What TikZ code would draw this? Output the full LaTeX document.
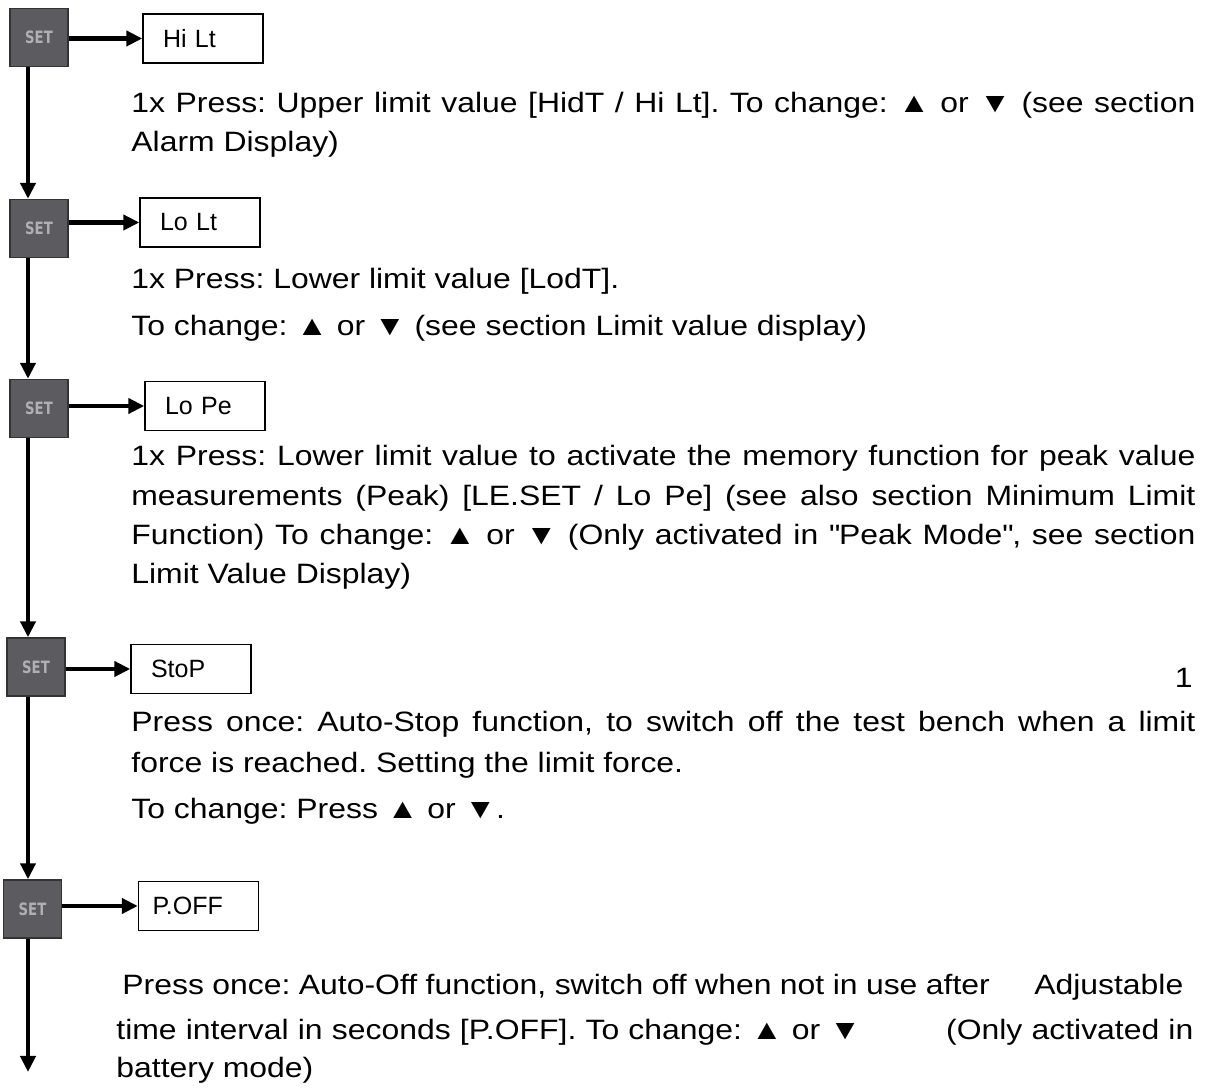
\documentclass[tikz,border=0pt]{standalone}
\usepackage{fontspec}
\setmainfont{Liberation Sans}[FakeStretch=1.14]
\newfontfamily\boxfont{Liberation Sans}
\newfontfamily\keyfont{DejaVu Sans}
\usetikzlibrary{shapes, arrows.meta}
\definecolor{keygray}{RGB}{92,92,96}
\definecolor{keytext}{RGB}{176,176,178}
\tikzstyle{setkey} = [rectangle, minimum size=29pt, inner sep=0pt, draw=black!80, line width=0.7pt, fill=keygray, text=keytext, font=\keyfont\bfseries\fontsize{8.5}{9}\selectfont]
\tikzstyle{display} = [rectangle, text width=40pt, inner xsep=10pt, minimum height=24.5pt, align=left, draw=black, line width=0.7pt, font=\boxfont\fontsize{12.5}{14}\selectfont]
\tikzstyle{txt} = [anchor=base west, inner sep=0pt, font=\fontsize{14}{16}\selectfont]
\tikzstyle{edge} = [line width=2.2pt, -{Triangle[length=8pt, width=7.5pt]}]
\newcommand{\jline}[1]{\makebox[532pt][s]{#1}}
\newcommand{\keylabel}{\scalebox{0.78}[1]{SET}}

\begin{document}
\frenchspacing
\begin{tikzpicture}[x=0.5pt, y=-0.5pt]
\useasboundingbox (0,0) rectangle (1207,1090);

\node (s1) [setkey] at (39,37.5) {\keylabel};
\node (s2) [setkey] at (39,228.5) {\keylabel};
\node (s3) [setkey] at (39,408.5) {\keylabel};
\node (s4) [setkey] at (36,667) {\keylabel};
\node (s5) [setkey] at (32.5,909) {\keylabel};

\node (d1) [display] at (203,38.5) {Hi Lt};
\node (d2) [display] at (200,222.5) {Lo Lt};
\node (d3) [display] at (205,406) {Lo Pe};
\node (d4) [display] at (191,669) {StoP};
\node (d5) [display, inner xsep=7pt, text width=46pt] at (198.5,906) {P.OFF};

\coordinate (spine) at (28,0);
\coordinate (end) at (28,1072);

\node (t11) [txt] at (131,113) {\jline{1x Press: Upper limit value [HidT / Hi Lt]. To change: ▲ or ▼ (see section}};
\node (t12) [txt] at (131,152) {Alarm Display)};

\node (t21) [txt] at (131,289) {1x Press: Lower limit value [LodT].};
\node (t22) [txt] at (131,336) {To change: ▲ or ▼ (see section Limit value display)};

\node (t31) [txt] at (131,466) {\jline{1x Press: Lower limit value to activate the memory function for peak value}};
\node (t32) [txt] at (131,506) {\jline{measurements (Peak) [LE.SET / Lo Pe] (see also section Minimum Limit}};
\node (t33) [txt] at (131,545) {\jline{Function) To change: ▲ or ▼ (Only activated in \textquotedbl Peak Mode\textquotedbl, see section}};
\node (t34) [txt] at (131,584) {Limit Value Display)};

\node (pg) [txt, anchor=base east] at (1193,688) {1};

\node (t41) [txt] at (131,732) {\jline{Press once: Auto-Stop function, to switch off the test bench when a limit}};
\node (t42) [txt] at (131,773) {force is reached. Setting the limit force.};
\node (t43) [txt] at (131,819) {To change: Press ▲ or ▼.};

\node (t51) [txt] at (122,995) {\makebox[530.5pt][s]{Press once: Auto-Off function, switch off when not in use after\hspace*{18pt} Adjustable}};
\node (t52) [txt] at (116,1040) {\makebox[538.5pt][s]{time interval in seconds [P.OFF]. To change: ▲ or ▼\hspace*{38pt} (Only activated in}};
\node (t53) [txt] at (116,1078) {battery mode)};

\draw [edge] (s1.east |- d1.west) -- (d1.west);
\draw [edge] (s2.east |- d2.west) -- (d2.west);
\draw [edge] (s3.east |- d3.west) -- (d3.west);
\draw [edge] (s4.east |- d4.west) -- (d4.west);
\draw [edge] (s5.east |- d5.west) -- (d5.west);

\draw [edge] (s1.south -| spine) -- (s2.north -| spine);
\draw [edge] (s2.south -| spine) -- (s3.north -| spine);
\draw [edge] (s3.south -| spine) -- (s4.north -| spine);
\draw [edge] (s4.south -| spine) -- (s5.north -| spine);
\draw [edge] (s5.south -| spine) -- (end);

\end{tikzpicture}
\end{document}
